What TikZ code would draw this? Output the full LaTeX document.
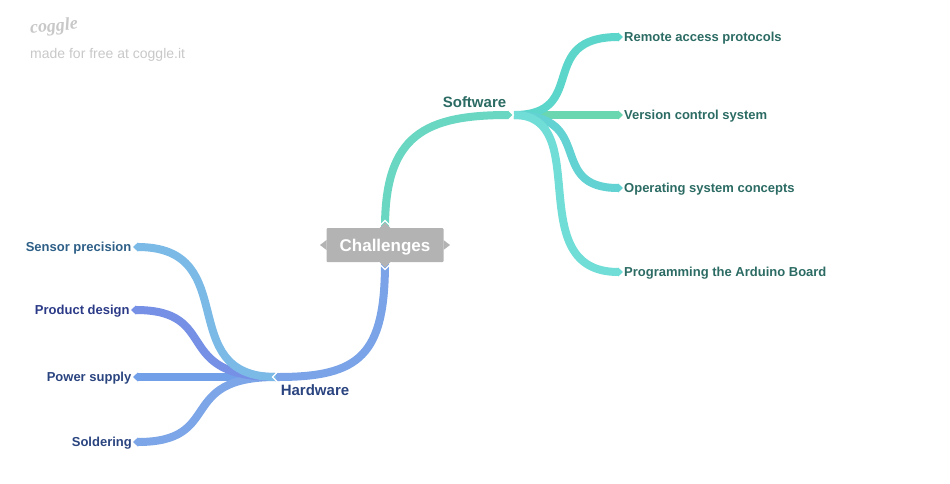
\documentclass[tikz,border=0pt]{standalone}
\usepackage{fontspec}
\setmainfont{Liberation Sans}
\newfontfamily\logofont{Liberation Serif}
\usetikzlibrary{arrows.meta}
\definecolor{softDark}{RGB}{43,107,99}
\definecolor{hardDark}{RGB}{42,68,128}
\definecolor{sensorDark}{RGB}{45,95,135}
\definecolor{productDark}{RGB}{43,58,135}
\definecolor{softStem}{RGB}{106,215,194}
\definecolor{remoteLine}{RGB}{92,214,203}
\definecolor{versionLine}{RGB}{106,215,176}
\definecolor{operatingLine}{RGB}{98,210,210}
\definecolor{arduinoLine}{RGB}{112,221,214}
\definecolor{hardStem}{RGB}{123,163,232}
\definecolor{sensorLine}{RGB}{123,186,230}
\definecolor{productLine}{RGB}{118,144,230}
\definecolor{powerLine}{RGB}{113,160,232}
\definecolor{solderLine}{RGB}{124,166,232}
\definecolor{rootGrey}{RGB}{179,179,179}
\definecolor{logoGrey}{RGB}{200,200,200}
\tikzset{
  branch/.style={line width=8pt,-{Triangle[length=5pt,width=9pt]}},
  leaf/.style={font=\fontsize{13}{15}\selectfont\bfseries,inner sep=0pt},
  topic/.style={font=\fontsize{15}{18}\selectfont\bfseries,inner sep=0pt},
}
\begin{document}
\begin{tikzpicture}[x=1pt,y=1pt,yscale=-1,xscale=1]
\useasboundingbox (0,0) rectangle (950,483);

% Text Node
\node [font=\fontsize{18}{22}\logofont\itshape\bfseries\selectfont,text=logoGrey,rotate=6,inner sep=0pt] (logo) at (54,27) {coggle};
% Text Node
\node [font=\fontsize{14}{17}\selectfont,text=logoGrey,inner sep=0pt,anchor=west] (madeWith) at (30,55) {made for free at coggle.it};

% Root
\node [fill=rootGrey,rounded corners=1pt,minimum width=117pt,minimum height=34pt,inner sep=0pt,text=white,text height=12.2pt,text depth=0pt,font=\fontsize{17}{20}\selectfont\bfseries] (Challenges) at (385,245) {Challenges};

% Text Node
\node [topic,text=softDark] (Software) at (474.5,102) {Software};
% Text Node
\node [topic,text=hardDark] (Hardware) at (315,390) {Hardware};
% Text Node
\node [leaf,text=softDark,anchor=west] (Remote) at (624,38) {Remote access protocols};
% Text Node
\node [leaf,text=softDark,anchor=west] (Version) at (624,116) {Version control system};
% Text Node
\node [leaf,text=softDark,anchor=west] (Operating) at (624,189) {Operating system concepts};
% Text Node
\node [leaf,text=softDark,anchor=west] (Arduino) at (624,273) {Programming the Arduino Board};
% Text Node
\node [leaf,text=sensorDark,anchor=east] (Sensor) at (131.5,248) {Sensor precision};
% Text Node
\node [leaf,text=productDark,anchor=east] (Product) at (129.8,311) {Product design};
% Text Node
\node [leaf,text=hardDark,anchor=east] (Power) at (131.5,378) {Power supply};
% Text Node
\node [leaf,text=hardDark,anchor=east] (Soldering) at (132,443) {Soldering};

\coordinate (softIn) at (513,115);
\coordinate (softOut) at (514,115);
\coordinate (hardIn) at (273,377);
\coordinate (hardOut) at (276,377);
\coordinate (remoteEnd) at (623,37);
\coordinate (versionEnd) at (623,115);
\coordinate (operatingEnd) at (623,188);
\coordinate (arduinoEnd) at (623,272);
\coordinate (sensorEnd) at (133,247);
\coordinate (productEnd) at (131,310);
\coordinate (powerEnd) at (133,377);
\coordinate (solderEnd) at (133,442);

%Curve Lines
\draw [branch,softStem] (Challenges.north) .. controls (385,135) and (425,115) .. (softIn);
%Curve Lines
\draw [branch,hardStem] (Challenges.south) .. controls (385,355) and (360,377) .. (hardIn);

%Straight Lines
\draw [branch,versionLine] (softOut) -- (versionEnd);
%Curve Lines
\draw [branch,remoteLine] (softOut) .. controls (590,115) and (535,37) .. (remoteEnd);
%Curve Lines
\draw [branch,operatingLine] (softOut) .. controls (597,115) and (545,188) .. (operatingEnd);
%Curve Lines
\draw [branch,arduinoLine] (softOut) .. controls (595,115) and (520,272) .. (arduinoEnd);

%Straight Lines
\draw [branch,powerLine] (hardOut) -- (powerEnd);
%Curve Lines
\draw [branch,solderLine] (hardOut) .. controls (175,377) and (225,442) .. (solderEnd);
%Curve Lines
\draw [branch,productLine] (hardOut) .. controls (170,377) and (222,310) .. (productEnd);
%Curve Lines
\draw [branch,sensorLine] (hardOut) .. controls (172,377) and (244,247) .. (sensorEnd);

%Notches
\draw [white,line width=1.2pt] (508.5,110) -- (513.5,115) -- (508.5,120);
\draw [white,line width=1.2pt] (277.5,372) -- (272.5,377) -- (277.5,382);

%Root tips
\fill [rootGrey] (326.5,240) -- (320,245) -- (326.5,250) -- cycle;
\fill [rootGrey] (443.5,240) -- (450,245) -- (443.5,250) -- cycle;
\draw [rootGrey,fill=rootGrey] (380,228) -- (385,223) -- (390,228) -- cycle;
\draw [white,line width=1.2pt] (378,227.5) -- (385,220.5) -- (392,227.5);
\draw [rootGrey,fill=rootGrey] (380,262) -- (385,267) -- (390,262) -- cycle;
\draw [white,line width=1.2pt] (378,262.5) -- (385,269.5) -- (392,262.5);

\end{tikzpicture}
\end{document}
